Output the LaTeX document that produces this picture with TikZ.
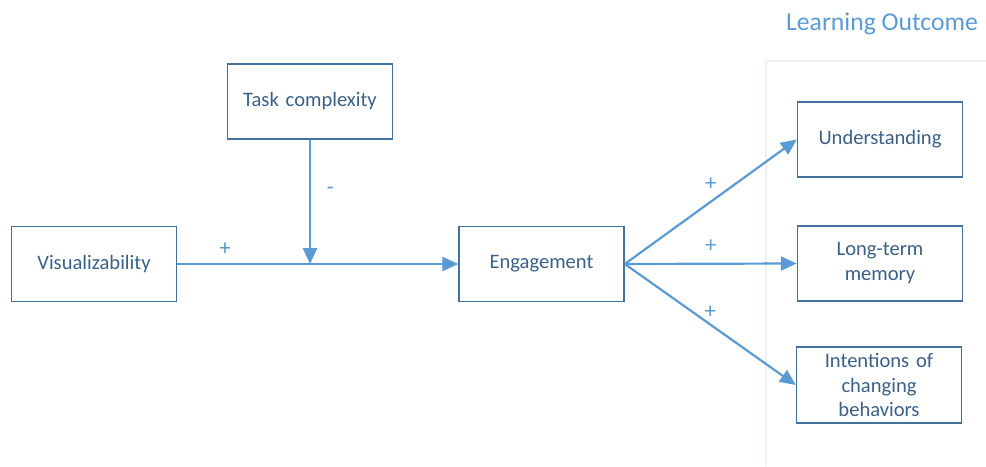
\documentclass[tikz,border=0pt]{standalone}
\usepackage{fontspec}
\setmainfont{Carlito}
\usepackage{xcolor}
\usepackage{tikz}
\usetikzlibrary{positioning,arrows.meta}

\definecolor{boxline}{RGB}{65,113,156}
\definecolor{boxtext}{RGB}{59,96,135}
\definecolor{arrowblue}{RGB}{91,155,213}
\definecolor{panelgray}{RGB}{236,240,247}

\begin{document}
\begin{tikzpicture}[
box/.style={draw=boxline,line width=0.9pt,rectangle,minimum width=3.3cm,minimum height=1.5cm,
    text width=2.9cm,align=center,text=boxtext,font=\fontsize{11.7}{14.2}\selectfont},
link/.style={draw=arrowblue,line width=1.25pt,-{Triangle[length=9pt,width=8pt]}},
sign/.style={text=arrowblue,font=\fontsize{13}{15}\selectfont,inner sep=1pt}]
\useasboundingbox (0,0) rectangle (19.72,9.32);
% outcome panel
\draw[panelgray,line width=0.8pt] (15.32,0) -- (15.32,8.1) -- (19.72,8.1);
\node (outtitle) at (17.64,8.84) [text=arrowblue,font=\fontsize{14.6}{17}\selectfont] {Learning Outcome};

\node (task) at (6.2,7.29) [box] {Task complexity};
\node (vis) at (1.88,4.04) [box] {Visualizability};
\node (eng) at (10.83,4.04) [box] {Engagement};
\node (und) at (17.6,6.53) [box] {Understanding};
\node (ltm) at (17.6,4.05) [box] {Long-term\\memory};
\node (intent) at (17.58,1.62) [box] {Intentions of\\changing\\behaviors};

\coordinate (junc) at (task.south |- vis.east);
\draw[link] (vis) -- node[sign,pos=0.17,above=3pt] {+} (eng);
\draw[link] (task) -- node[sign,pos=0.41,right=8pt] {-} (junc);

\draw[link] (eng.east) -- node[sign,midway,above=5pt] {+} (und.west);
\draw[link] (eng.east) -- node[sign,midway,above=5pt] {+} (ltm.west);
\draw[link] (eng.east) -- node[sign,midway,above=2pt] {+} (intent.west);
\end{tikzpicture}
\end{document}
